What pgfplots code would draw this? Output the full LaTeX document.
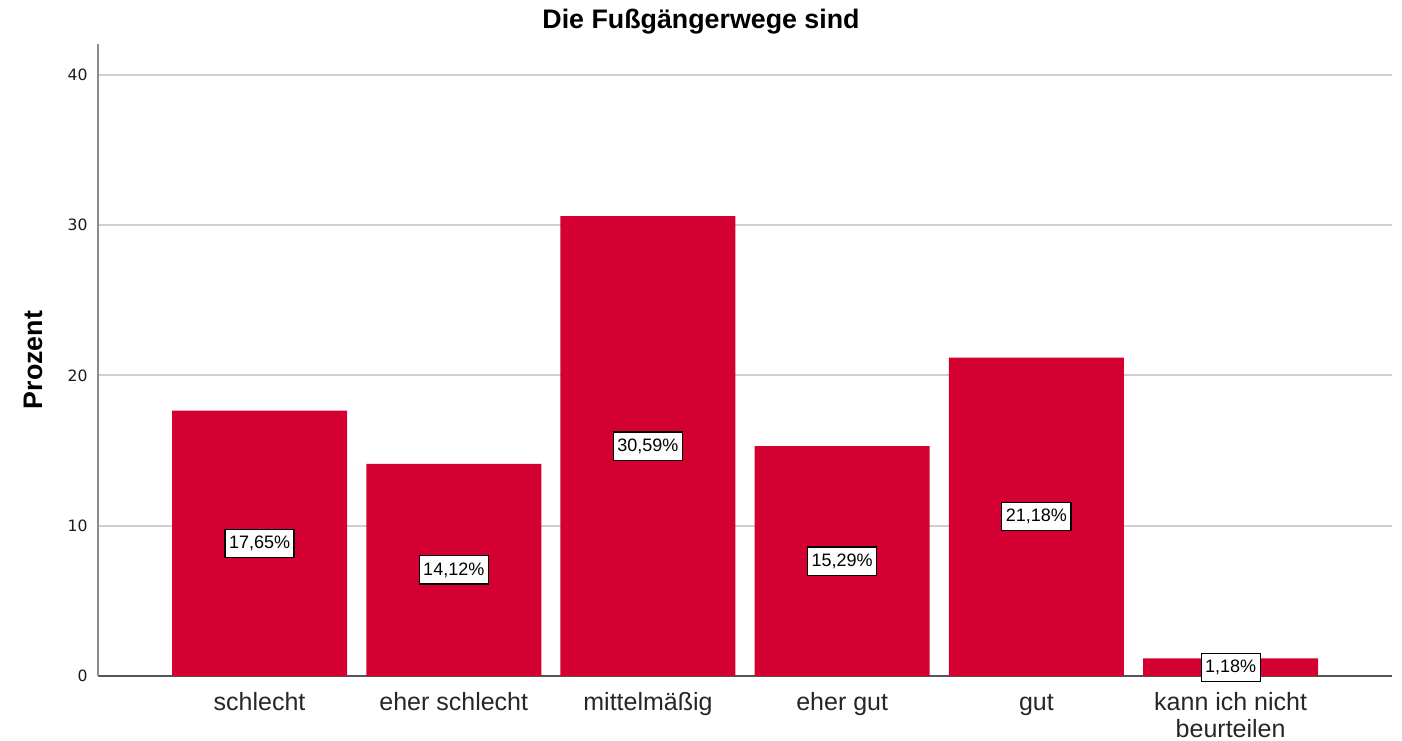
\documentclass[border=0pt]{standalone}
\usepackage{fontspec}
\setmainfont{Liberation Sans}
\newfontfamily\tickfont{DejaVu Sans}
\usepackage{pgfplots}
\pgfplotsset{compat=1.18}
\definecolor{barred}{HTML}{D50032}
\definecolor{gridgray}{HTML}{CFCFCF}
\definecolor{yaxisgray}{HTML}{8C8C8C}
\definecolor{xaxisgray}{HTML}{555555}
\begin{document}
\begin{tikzpicture}
\begin{axis}[
  scale only axis, width=647pt, height=316pt,
  xmin=-0.832, xmax=5.831, ymin=0, ymax=42.05,
  axis x line*=bottom, axis y line*=left,
  x axis line style={xaxisgray, line width=0.8pt},
  y axis line style={yaxisgray, line width=1pt},
  ytick={0,10,20,30,40},
  major tick length=0pt,
  ymajorgrids, grid style={gridgray, line width=1pt},
  xtick={0,1,2,3,4,5},
  xticklabels={\vphantom{h}schlecht, \vphantom{h}eher schlecht, \vphantom{h}mittelmäßig, \vphantom{h}eher gut, \vphantom{h}gut, {\vphantom{h}kann ich nicht\\beurteilen}},
  xticklabel style={font=\fontsize{12.5}{13.5}\selectfont, align=center, anchor=north, inner sep=0pt, yshift=-8pt, text=black!85},
  yticklabel style={font=\tickfont\fontsize{7.8}{9}\selectfont, anchor=east, inner sep=0pt, xshift=-5pt, text=black!90},
  /pgf/number format/assume math mode=true,
  clip=false,
]
\addplot[ybar, bar width=87.5pt, bar shift=0pt, fill=barred, draw=none]
  coordinates {(0,17.65) (1,14.12) (2,30.59) (3,15.29) (4,21.18) (5,1.18)};
\addplot[draw=none, mark=none, point meta=explicit symbolic,
  nodes near coords, nodes near coords align={center},
  every node near coord/.style={anchor=center, draw=black, fill=white, line width=0.6pt,
    inner xsep=2pt, inner ysep=3.3pt, font=\fontsize{9}{10}\selectfont, text=black}]
  coordinates {(0,8.825) [17,65\%] (1,7.06) [14,12\%] (2,15.295) [30,59\%]
               (3,7.645) [15,29\%] (4,10.59) [21,18\%] (5,0.59) [1,18\%]};
\node[font=\bfseries\fontsize{13.4}{15}\selectfont] at (rel axis cs:0.466,1.0348) {Die Fußgängerwege sind};
\node[font=\bfseries\fontsize{13.4}{15}\selectfont, rotate=90] at (rel axis cs:-0.0502,0.5) {Prozent};
\path (rel axis cs:-0.0757,-0.1028) rectangle (rel axis cs:1.0077,1.0696);
\end{axis}
\end{tikzpicture}
\end{document}
